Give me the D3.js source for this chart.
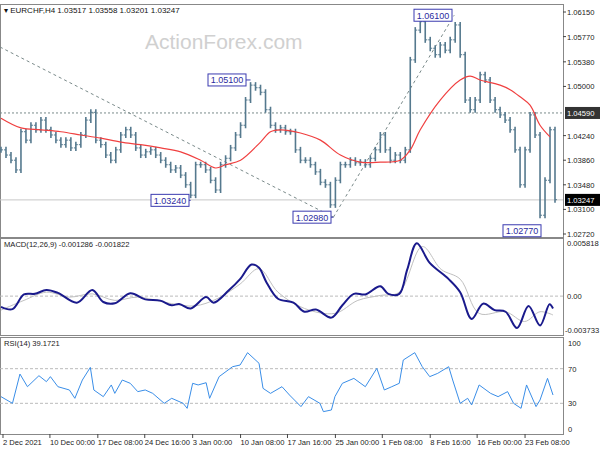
<!DOCTYPE html><html><head><meta charset="utf-8">
<script src="https://cdn.jsdelivr.net/npm/d3@7"></script>
<style>body{margin:0;background:#fff}text{font-family:"Liberation Sans",Arial,sans-serif}</style></head><body>
<svg id="c" width="600" height="450"></svg>
<script>
const closes=[1.0402,1.0394,1.0386,1.0371,1.0430,1.0417,1.0440,1.0433,1.0448,1.0433,1.0425,1.0417,1.0410,1.0417,1.0405,1.0410,1.0425,1.0448,1.0460,1.0417,1.0410,1.0394,1.0386,1.0402,1.0425,1.0433,1.0425,1.0405,1.0394,1.0399,1.0402,1.0394,1.0386,1.0379,1.0371,1.0374,1.0363,1.0348,1.0332,1.0379,1.0379,1.0371,1.0355,1.0340,1.0379,1.0389,1.0405,1.0425,1.0440,1.0479,1.0502,1.0498,1.0491,1.0464,1.0440,1.0433,1.0436,1.0430,1.0430,1.0402,1.0386,1.0386,1.0379,1.0368,1.0352,1.0348,1.0317,1.0355,1.0379,1.0379,1.0386,1.0382,1.0383,1.0379,1.0389,1.0402,1.0425,1.0402,1.0386,1.0394,1.0386,1.0402,1.0541,1.0587,1.0600,1.0572,1.0559,1.0549,1.0564,1.0556,1.0572,1.0595,1.0549,1.0479,1.0464,1.0479,1.0518,1.0510,1.0479,1.0464,1.0456,1.0448,1.0433,1.0402,1.0348,1.0402,1.0456,1.0425,1.0301,1.0355,1.0433,1.0325];
const maIdx=[0,4,8,12,16,20,24,28,32,36,40,43,45,48,52,54,56,60,64,68,72,76,80,82,84,88,92,94,96,100,102,104,106,108,110];
const maVals=[1.0451,1.0436,1.0433,1.0430,1.0425,1.0420,1.0414,1.0410,1.0405,1.0399,1.0386,1.0374,1.0379,1.0386,1.0414,1.0430,1.0433,1.0428,1.0417,1.0394,1.0383,1.0383,1.0386,1.0402,1.0433,1.0479,1.0510,1.0516,1.0510,1.0502,1.0495,1.0484,1.0471,1.0440,1.0422];
const macdIdx=[0,2.3,4.6,6.8,9.1,11.4,15.2,18.3,20.5,22.8,25.9,28.9,31.9,34.2,35.7,38,41.1,42.6,45.6,47.9,50.2,51.7,53.2,55.5,58.6,60.8,63.1,66.2,68.4,70.7,73,76,77.6,79.8,81.4,83.3,85.9,89.7,92,94.3,96.6,98.9,101.1,103.4,105.7,108,109.9,110.6];
const macdVals=[-0.00118,-0.00144,0.00018,0.00025,0.00068,0.00036,-0.00072,0.00068,-0.00065,-0.00079,0.00032,-0.00036,-0.00050,-0.00101,-0.00086,-0.00136,-0.00011,-0.00072,0.00061,0.00187,0.00348,0.00312,0.00151,-0.00029,-0.00072,-0.00172,-0.00147,-0.00237,-0.00101,0.00025,0.00018,0.00108,0.00025,0.00025,0.00294,0.00582,0.00366,0.00187,0.00043,-0.00251,-0.00083,-0.00154,-0.00172,-0.00352,-0.00108,-0.00323,-0.00090,-0.00136];
const sigIdx=[0,4.6,9.1,13.7,18.3,22.8,27.4,34.2,38.8,43.3,47.9,51.7,55.5,60.8,66.9,71.5,76,79.8,84.4,88.2,92,95.8,101.1,104.9,108,110.6];
const sigVals=[-0.00154,-0.00047,0.00043,-0.00011,0.00025,-0.00047,-0.00011,-0.00083,-0.00108,-0.00029,0.00133,0.00302,0.00043,-0.00136,-0.00190,-0.00047,0.00007,0.00043,0.00546,0.00294,0.00187,-0.00190,-0.00172,-0.00280,-0.00172,-0.00208];
const rsiIdx=[0,2.3,3.8,5.3,7.6,9.1,9.9,11.4,13.7,14.8,16.3,17.9,18.6,20.5,22.1,22.8,24.3,25.9,27.4,28.9,30.4,32.7,34.2,36.5,37.3,38.4,39.5,41.1,41.8,43.7,46.4,47.9,49.4,51.7,52.5,54,56.3,57.8,60.1,61.6,63.9,64.6,66.2,66.9,68.4,70.7,73,75.3,76.8,78.3,79.8,80.6,82.9,84.4,85.9,87.5,89.7,90.5,92,93.5,94.3,95.8,98.1,99.6,101.5,102.7,104.2,105.3,107.2,108,109.5,110.6];
const rsiVals=[37.7,30,63.8,49.2,61.9,55,60.8,49.2,45.4,35.8,56.9,71.5,45.4,37.7,51.2,41.5,56.9,53.1,43.5,45.4,41.5,30,35.8,30,24.2,53.1,51.2,53.8,35.8,60.8,72.3,74.2,88.5,76.2,47.3,41.5,49.2,39.6,26.2,37.7,30,20.4,22.3,37.7,53.1,58.8,49.2,70.4,45.4,49.2,53.1,80,88.5,72.3,60.8,64.6,72.3,56.9,30,35.8,28.1,51.2,41.5,37.7,43.5,30,24.2,51.2,26.2,33.8,58.8,39.6];
const timeLabels=["2 Dec 2021","10 Dec 00:00","17 Dec 08:00","24 Dec 16:00","3 Jan 00:00","10 Jan 08:00","17 Jan 16:00","25 Jan 00:00","1 Feb 08:00","8 Feb 16:00","16 Feb 00:00","23 Feb 08:00"];
const timeIdx=[0.4,9.8,19.4,28.8,38.4,48,57.4,67,76.4,86,95.4,105];
const priceTicks=[1.0615,1.0577,1.0538,1.0500,1.0424,1.0386,1.0348,1.0310,1.0272];
const labels=[{t:"1.05100",i:50,v:1.0510,bx:208},{t:"1.03240",i:38,v:1.0324,bx:151},{t:"1.02980",i:66.6,v:1.0298,bx:293},{t:"1.06100",i:84,v:1.0610,bx:414},{t:"1.02770",i:108,v:1.0277,bx:503}];
const resist=1.0459, lastPx=1.03247;

const svg=d3.select("#c"), R=563;
const x=d3.scaleLinear().domain([0,111]).range([1,555]);
const y=d3.scaleLinear().domain([1.0272,1.0615]).range([234,12]);
const ym=d3.scaleLinear().domain([-0.003733,0.005818]).range([330,243.3]);
const yr=d3.scaleLinear().domain([0,100]).range([429.3,342.7]);
const FS=7.6;
[[4,237],[238,335],[337,434]].forEach(([a,b])=>svg.append("rect").attr("x",0.5).attr("y",a+0.5).attr("width",R).attr("height",b-a).attr("fill","none").attr("stroke","#888"));
svg.append("text").attr("x",145).attr("y",49).attr("font-size",21).attr("fill","#d0d0d0").text("ActionForex.com");
const dl=(x1,y1,x2,y2,c,da)=>svg.append("line").attr("x1",x1).attr("y1",y1).attr("x2",x2).attr("y2",y2).attr("stroke",c).attr("stroke-dasharray",da);
dl(0,47,x(66.6),y(1.0298),"#7a8a8a","3,3");
dl(x(66.6),y(1.0298),x(90.8),y(1.0610),"#7a8a8a","3,3");
dl(0,y(resist),R,y(resist),"#7a8a8a","2,2");
dl(0,y(lastPx),R,y(lastPx),"#c8c8c8",null);
closes.forEach((c,i)=>{const o=i?closes[i-1]:c;const hi=Math.max(o,c),lo=Math.min(o,c);
 svg.append("line").attr("x1",x(i)).attr("x2",x(i)).attr("y1",y(hi)-3).attr("y2",y(lo)+3).attr("stroke","#55798e").attr("stroke-width",1.6);
 svg.append("line").attr("x1",x(i)-2).attr("x2",x(i)).attr("y1",y(o)).attr("y2",y(o)).attr("stroke","#55798e");
 svg.append("line").attr("x1",x(i)).attr("x2",x(i)+2).attr("y1",y(c)).attr("y2",y(c)).attr("stroke","#55798e");});
svg.append("path").datum(d3.zip(maIdx,maVals)).attr("d",d3.line().x(d=>x(d[0])).y(d=>y(d[1])).curve(d3.curveCatmullRom)).attr("fill","none").attr("stroke","#f04040").attr("stroke-width",1.2);
labels.forEach(l=>{const w=38,by=y(l.v);
 svg.append("line").attr("x1",l.bx+w).attr("x2",x(l.i)).attr("y1",by).attr("y2",by).attr("stroke","#3b3bb0");
 svg.append("rect").attr("x",l.bx).attr("y",by-6).attr("width",w).attr("height",12).attr("fill","#fff").attr("stroke","#3b3bb0");
 svg.append("text").attr("x",l.bx+w/2).attr("y",by+3.5).attr("text-anchor","middle").attr("font-size",9).attr("fill","#2b2ba0").text(l.t);});
const ax=svg.append("g").attr("font-size",FS).attr("fill","#222");
priceTicks.forEach(p=>{ax.append("line").attr("x1",R).attr("x2",R+3).attr("y1",y(p)).attr("y2",y(p)).attr("stroke","#444");ax.append("text").attr("x",567).attr("y",y(p)+3).text(p.toFixed(5));});
[[resist,"#333"],[lastPx,"#000"]].forEach(([p,c])=>{svg.append("rect").attr("x",565).attr("y",y(p)-6).attr("width",35).attr("height",12).attr("fill",c);svg.append("text").attr("x",567).attr("y",y(p)+3).attr("font-size",FS).attr("fill","#fff").text(p.toFixed(5));});
svg.append("text").attr("x",4).attr("y",13).attr("font-size",8).attr("fill","#111").text("▾ EURCHF,H4  1.03517 1.03558 1.03201 1.03247");
dl(0,ym(0),R,ym(0),"#bbb","3,2");
svg.append("path").datum(d3.zip(sigIdx,sigVals)).attr("d",d3.line().x(d=>x(d[0])).y(d=>ym(d[1])).curve(d3.curveCatmullRom)).attr("fill","none").attr("stroke","#c0c0c0").attr("stroke-width",1);
svg.append("path").datum(d3.zip(macdIdx,macdVals)).attr("d",d3.line().x(d=>x(d[0])).y(d=>ym(d[1])).curve(d3.curveCatmullRom)).attr("fill","none").attr("stroke","#1a1a8c").attr("stroke-width",2);
svg.append("text").attr("x",4).attr("y",247).attr("font-size",FS).attr("fill","#222").text("MACD(12,26,9) -0.001286 -0.001822");
[[0.005818,"0.005818"],[0,"0.00"],[-0.003733,"-0.003733"]].forEach(([v,t])=>ax.append("text").attr("x",v<0?565:567).attr("y",ym(v)+3).text(t));
[70,30].forEach(v=>dl(0,yr(v),R,yr(v),"#bbb","3,2"));
svg.append("path").datum(d3.zip(rsiIdx,rsiVals)).attr("d",d3.line().x(d=>x(d[0])).y(d=>yr(d[1]))).attr("fill","none").attr("stroke","#3a8ee8").attr("stroke-width",1);
svg.append("text").attr("x",4).attr("y",346).attr("font-size",FS).attr("fill","#222").text("RSI(14) 39.1721");
[100,70,30,0].forEach(v=>ax.append("text").attr("x",568).attr("y",yr(v)+3).text(v));
timeLabels.forEach((t,i)=>{const xx=x(timeIdx[i]);svg.append("line").attr("x1",xx).attr("x2",xx).attr("y1",434).attr("y2",438).attr("stroke","#444");
 svg.append("text").attr("x",xx).attr("y",445).attr("font-size",FS).attr("fill","#222").text(t);});
</script></body></html>
